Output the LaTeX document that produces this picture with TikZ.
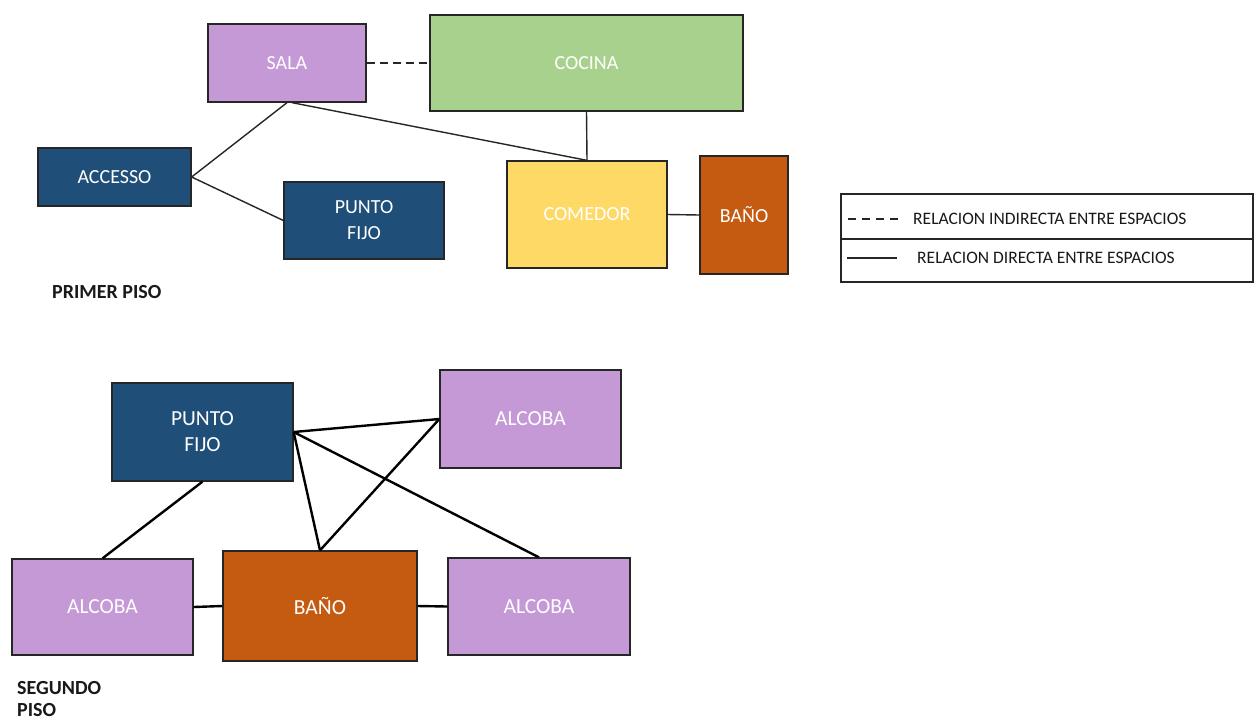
\documentclass[tikz,border=0pt]{standalone}
\usepackage{fontspec}
\setmainfont{Carlito}
\definecolor{lila}{HTML}{C598D6}
\definecolor{verde}{HTML}{A9D18E}
\definecolor{amarillo}{HTML}{FFD966}
\definecolor{naranja}{HTML}{C55A11}
\definecolor{azul}{HTML}{1F4E79}
\begin{document}
\begin{tikzpicture}[x=1pt,y=-1pt,
  box/.style={draw=black!85, line width=1.3pt, rectangle, inner sep=0pt,
    text=white, align=center, font=\fontsize{20}{26}\selectfont},
  boxb/.style={box, font=\fontsize{21.5}{26}\selectfont},
  link/.style={draw=black!85, line width=1.4pt},
  linkb/.style={draw=black, line width=2.4pt},
  dashlink/.style={link, dash pattern=on 8pt off 5pt},
  title/.style={anchor=west, inner sep=0pt, align=left, font=\bfseries\fontsize{20}{22}\selectfont, text=black!90},
  legtext/.style={anchor=west, inner sep=0pt, font=\fontsize{17.5}{20}\selectfont, text=black!90}]
\useasboundingbox[fill=white] (0,0) rectangle (1258,721);

% PRIMER PISO
\node[box, fill=lila, minimum width=158pt, minimum height=78pt] (sala) at (287,63) {SALA};
\node[box, fill=verde, minimum width=313pt, minimum height=96pt] (cocina) at (586.5,63) {COCINA};
\node[box, fill=azul, minimum width=153pt, minimum height=58pt] (acceso) at (114.5,177) {ACCESSO};
\node[box, fill=azul, minimum width=160pt, minimum height=77pt] (pf1) at (364,220.5) {PUNTO\\FIJO};
\node[box, fill=amarillo, minimum width=160pt, minimum height=107pt] (comedor) at (587,214.5) {COMEDOR};
\node[box, fill=naranja, minimum width=88pt, minimum height=118pt] (bano1) at (744,215) {BAÑO};
\node[title] (primer) at (52,292) {PRIMER PISO};

\draw[dashlink] (sala.east) -- (cocina.west);
\draw[link] (sala.south) -- (acceso.east);
\draw[link] (acceso.east) -- (pf1.west);
\draw[link] ([xshift=5pt]sala.south) -- (comedor.north);
\draw[link] (cocina.south) -- (comedor.north);
\draw[link] (comedor.east) -- (bano1.west);

% LEYENDA
\node[draw=black!85, line width=1.2pt, rectangle, inner sep=0pt, minimum width=412pt, minimum height=88pt] (leyenda) at (1047,238) {};
\draw[line width=1.2pt, black!85] (leyenda.west |- 0,239) coordinate (dl) -- (leyenda.east |- 0,239) coordinate (dr);
\coordinate (d1) at (848,219);
\coordinate (d2) at (898,219);
\coordinate (s1) at (847,258);
\coordinate (s2) at (897,258);
\draw[line width=1.1pt, black!85, dash pattern=on 8pt off 6pt] (d1) -- (d2);
\draw[line width=1.1pt, black!85] (s1) -- (s2);
\node[legtext] (ltxt1) at (913,219) {RELACION INDIRECTA ENTRE ESPACIOS};
\node[legtext] (ltxt2) at (917,258) {RELACION DIRECTA ENTRE ESPACIOS};

% SEGUNDO PISO
\node[boxb, fill=azul, minimum width=181pt, minimum height=98pt] (pf2) at (202.5,432) {PUNTO\\FIJO};
\node[boxb, fill=lila, minimum width=181pt, minimum height=98pt] (alcTR) at (530.5,419) {ALCOBA};
\node[boxb, fill=lila, minimum width=181pt, minimum height=96pt] (alcL) at (102.5,607) {ALCOBA};
\node[boxb, fill=naranja, minimum width=194pt, minimum height=110pt] (bano2) at (320,606) {BAÑO};
\node[boxb, fill=lila, minimum width=182pt, minimum height=97pt] (alcBR) at (539,606.5) {ALCOBA};
\node[title] (segundo) at (17,699) {SEGUNDO\\PISO};

\draw[linkb] (pf2.east) -- (alcTR.west);
\draw[linkb] (pf2.east) -- (bano2.north);
\draw[linkb] (pf2.east) -- (alcBR.north);
\draw[linkb] (bano2.north) -- (alcTR.west);
\draw[linkb] (pf2.south) -- (alcL.north);
\draw[linkb] (alcL.east) -- (bano2.west);
\draw[linkb] (bano2.east) -- (alcBR.west);
\end{tikzpicture}
\end{document}
